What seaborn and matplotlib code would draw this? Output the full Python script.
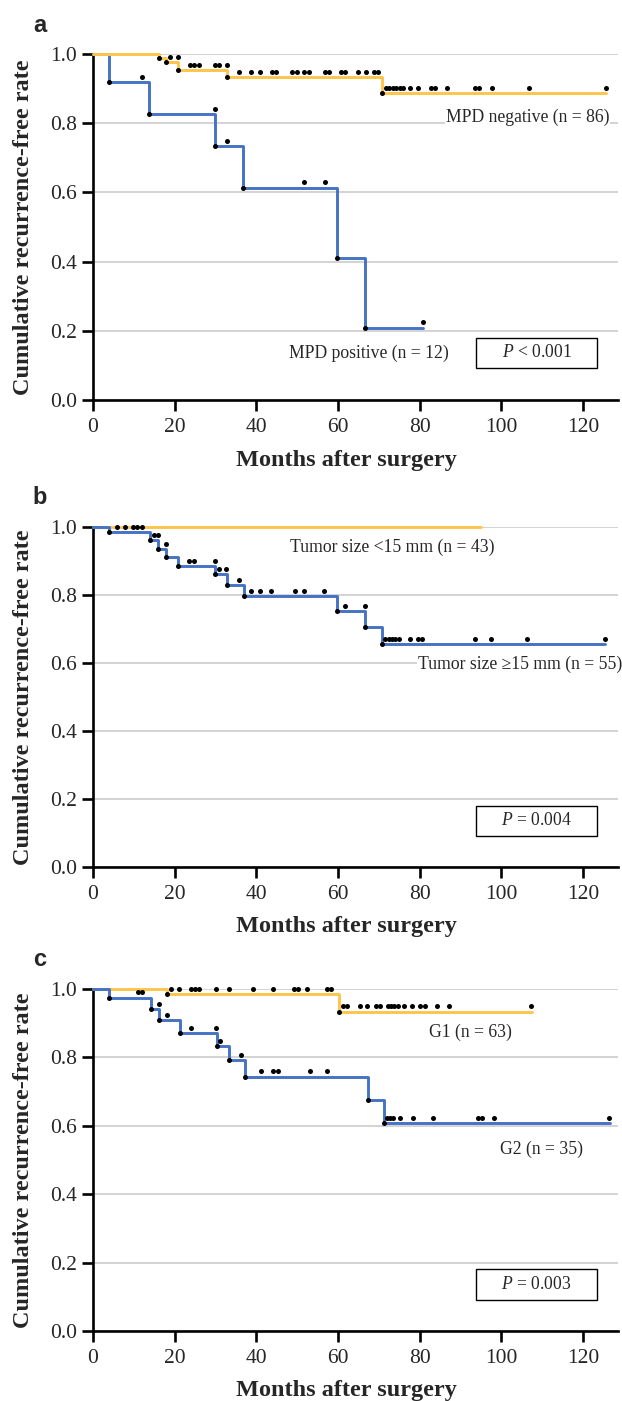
import numpy as np
import pandas as pd
import matplotlib
matplotlib.use('Agg')
import matplotlib.pyplot as plt
from matplotlib.patches import Rectangle
import seaborn as sns

# ---- data (months, survival levels) ----
# panel a: MPD
a_neg_events = [16.1, 17.9, 20.9, 32.8, 70.7]
a_neg_levels = [0.988, 0.976, 0.954, 0.933, 0.886]
a_neg_censor = [18.9, 20.8, 23.8, 24.8, 25.9, 29.9, 30.8, 32.8, 35.8, 38.8, 40.8,
                43.8, 44.8, 48.8, 49.9, 51.8, 52.9, 56.9, 57.8, 60.8, 61.8, 64.8,
                66.8, 68.8, 69.8, 71.7, 72.6, 73.5, 74.3, 75.2, 76.0, 77.7, 79.7,
                82.8, 83.7, 86.7, 93.6, 94.6, 97.7, 106.7, 125.7]
a_neg_end = 125.7
a_pos_events = [3.9, 13.8, 29.9, 36.8, 59.8, 66.7]
a_pos_levels = [0.919, 0.827, 0.735, 0.614, 0.410, 0.209]
a_pos_censor = [11.9, 29.9, 32.8, 51.8, 56.9, 80.8]
a_pos_end = 80.8

# panel b: tumor size
b_small_events = []
b_small_levels = []
b_small_censor = []
b_small_end = 95.1
b_large_events = [3.9, 14.0, 16.0, 18.0, 20.9, 29.9, 32.8, 36.9, 59.8, 66.7, 70.8]
b_large_levels = [0.984, 0.961, 0.936, 0.911, 0.885, 0.861, 0.828, 0.797, 0.752, 0.705, 0.656]
b_large_censor = [5.9, 7.9, 9.9, 10.9, 11.9, 15.0, 16.0, 17.9, 23.6, 24.8, 29.8, 30.8,
                  32.7, 35.7, 38.8, 40.8, 43.7, 49.6, 51.7, 56.7, 61.7, 66.6, 71.6,
                  72.4, 73.2, 74.0, 74.9, 77.6, 79.5, 80.6, 93.5, 97.5, 106.4, 125.5]
b_large_end = 125.5

# panel c: grade
c_g1_events = [18.1, 60.3]
c_g1_levels = [0.984, 0.934]
c_g1_censor = [19.2, 21.1, 24.0, 25.0, 26.0, 30.1, 33.2, 39.1, 44.2, 49.2, 50.2, 52.3,
               57.2, 58.2, 61.3, 62.3, 65.3, 67.2, 69.2, 70.2, 72.2, 73.0, 73.8, 74.6,
               76.2, 78.2, 80.2, 81.4, 84.2, 87.3, 107.3]
c_g1_end = 107.5
c_g2_events = [4.0, 14.1, 16.1, 21.3, 30.3, 33.2, 37.3, 67.3, 71.3]
c_g2_levels = [0.975, 0.942, 0.908, 0.872, 0.834, 0.792, 0.744, 0.675, 0.608]
c_g2_censor = [11.1, 12.1, 16.1, 18.1, 24.1, 30.1, 31.2, 36.2, 41.2, 44.2, 45.2, 53.2,
               57.3, 72.1, 72.8, 73.5, 75.2, 78.4, 83.3, 94.3, 95.4, 98.3, 126.4]
c_g2_end = 126.7

x_ticks = [0, 20, 40, 60, 80, 100, 120]
y_ticks = [0.0, 0.2, 0.4, 0.6, 0.8, 1.0]

YELLOW = '#FFC54A'
BLUE = '#4472C4'
SERIF = ['Liberation Serif', 'DejaVu Serif']

sns.set_theme(style='white')
plt.rcParams['font.family'] = SERIF
plt.rcParams['mathtext.fontset'] = 'custom'
plt.rcParams['mathtext.rm'] = 'Liberation Serif'
plt.rcParams['mathtext.it'] = 'Liberation Serif:italic'


def draw_curve(ax, events, levels, censor, end, color):
    # step line
    df = pd.DataFrame({'t': [0.0] + events + [end],
                       's': [1.0] + levels + [levels[-1] if levels else 1.0]})
    sns.lineplot(data=df, x='t', y='s', drawstyle='steps-post', color=color,
                 linewidth=2.1, estimator=None, sort=False, ax=ax,
                 clip_on=False, zorder=3)
    # event dots at the foot of each drop
    if events:
        sns.scatterplot(x=events, y=levels, color='black', s=13, linewidth=0,
                        ax=ax, zorder=5, clip_on=False)
    # censor dots sit just above the curve
    if censor:
        lv = np.array([1.0] + levels)
        idx = np.searchsorted(np.array(events), np.array(censor), side='left')
        sns.scatterplot(x=censor, y=lv[idx] + 0.015, color='black', s=13,
                        linewidth=0, ax=ax, zorder=5, clip_on=False)


def style_axes(ax):
    ax.set_xlim(0, 128.6)
    ax.set_ylim(0, 1.0)
    ax.set_xticks(x_ticks)
    ax.set_yticks(y_ticks)
    ax.set_yticklabels([f'{v:.1f}' for v in y_ticks])
    for s in ['top', 'right']:
        ax.spines[s].set_visible(False)
    for s in ['left', 'bottom']:
        ax.spines[s].set_linewidth(1.9)
        ax.spines[s].set_color('black')
    ax.tick_params(direction='out', length=7.8, width=1.9, color='black',
                   labelsize=15.5, left=True, bottom=True)
    ax.tick_params(axis='x', pad=5)
    ax.tick_params(axis='y', pad=3.5)
    ax.yaxis.grid(True, color='#C8C8C8', linewidth=1.1)
    ax.xaxis.grid(False)
    ax.set_axisbelow(True)
    ax.set_xlabel('Months after surgery', fontsize=17.5, fontweight='bold', va='center')
    ax.set_ylabel('Cumulative recurrence-free rate', fontsize=17.5,
                  fontweight='bold', va='center')
    ax.xaxis.set_label_coords(0.482, -0.175)
    ax.yaxis.set_label_coords(-0.133, 0.5)


def p_box(ax, label):
    ax.add_patch(Rectangle((93.9, 0.092), 29.6, 0.088, fill=False,
                           edgecolor='black', linewidth=1.0, zorder=4))
    ax.text(108.7, 0.136, label, ha='center', va='center', fontsize=12.7, zorder=5)


def note(ax, x, y, label, ha='center'):
    ax.text(x, y, label, ha=ha, va='center', fontsize=12.7, zorder=4,
            clip_on=False,
            bbox=dict(facecolor='white', edgecolor='none', pad=0.5))


fig = plt.figure(figsize=(6.22, 14.01), dpi=100)
W, H = 622, 1401
left, width = 93 / W, 525 / W
ax_a = fig.add_axes([left, 1 - 400 / H, width, 346 / H])
ax_b = fig.add_axes([left, 1 - 867 / H, width, 340 / H])
ax_c = fig.add_axes([left, 1 - 1331 / H, width, 342 / H])

# a
draw_curve(ax_a, a_pos_events, a_pos_levels, a_pos_censor, a_pos_end, BLUE)
draw_curve(ax_a, a_neg_events, a_neg_levels, a_neg_censor, a_neg_end, YELLOW)
style_axes(ax_a)
note(ax_a, 106.5, 0.818, 'MPD negative (n = 86)')
note(ax_a, 67.6, 0.136, 'MPD positive (n = 12)')
p_box(ax_a, r'$P$ < 0.001')

# b
draw_curve(ax_b, b_small_events, b_small_levels, b_small_censor, b_small_end, YELLOW)
draw_curve(ax_b, b_large_events, b_large_levels, b_large_censor, b_large_end, BLUE)
style_axes(ax_b)
note(ax_b, 73.4, 0.939, 'Tumor size <15 mm (n = 43)')
note(ax_b, 129.6, 0.597, 'Tumor size \u226515 mm (n = 55)', ha='right')
p_box(ax_b, r'$P$ = 0.004')

# c
draw_curve(ax_c, c_g1_events, c_g1_levels, c_g1_censor, c_g1_end, YELLOW)
draw_curve(ax_c, c_g2_events, c_g2_levels, c_g2_censor, c_g2_end, BLUE)
style_axes(ax_c)
note(ax_c, 92.5, 0.874, 'G1 (n = 63)')
note(ax_c, 109.8, 0.53, 'G2 (n = 35)')
p_box(ax_c, r'$P$ = 0.003')

for lab, yy in [('a', 25), ('b', 498), ('c', 960)]:
    fig.text(39.5 / W, 1 - yy / H, lab, ha='center', va='center', fontsize=17,
             fontweight='bold', family=['Liberation Sans', 'DejaVu Sans'])

fig.savefig('out.png', dpi=100)
